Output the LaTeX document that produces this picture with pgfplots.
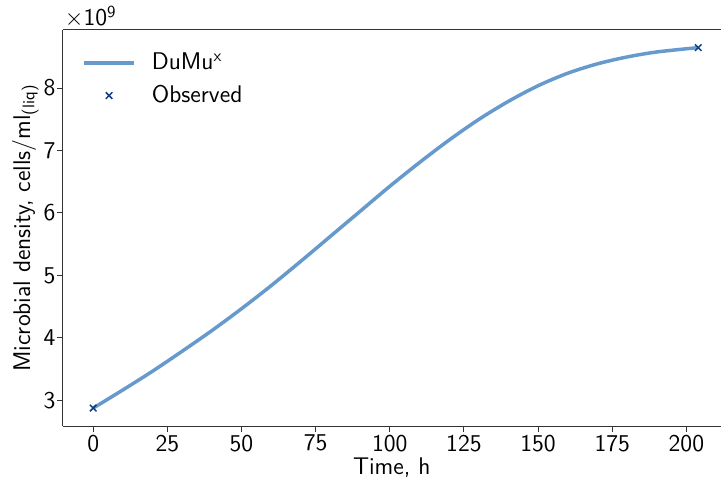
\documentclass[border=0pt]{standalone}
\usepackage{pgfplots}
\pgfplotsset{compat=1.18}
\renewcommand{\familydefault}{\sfdefault}
\definecolor{linec}{RGB}{102,153,204}
\definecolor{markc}{RGB}{12,62,130}
\newcommand{\fs}{\fontsize{14.5}{17}\selectfont}
\begin{document}
\begin{tikzpicture}
\begin{axis}[
  name=ax,
  scale only axis, width=395.4pt, height=238.2pt,
  xmin=-10.2, xmax=211.5, ymin=2.589, ymax=8.93,
  axis y line*=left,
  xtick pos=bottom,
  axis line style={line width=0.6pt, black!80},
  tick style={line width=0.6pt, black!80},
  tick align=outside, major tick length=3.5pt,
  xtick={0,25,...,200}, ytick={3,4,5,6,7,8},
  scaled y ticks=false,
  /pgf/number format/assume math mode=true,
  every tick label/.append style={font=\fs},
  yticklabel style={xshift=2.5pt},
  xticklabel style={yshift=1.8pt},
  xlabel={Time, h}, ylabel={Microbial density, cells/ml\textsubscript{(liq)}},
  label style={font=\fs},
  xlabel style={yshift=3.4pt}, ylabel style={inner ysep=7.2pt, yshift=-7.8pt},
  legend style={draw=none, fill=none, at={(0.0215,0.959)}, anchor=north west, font=\fs, row sep=4pt, column sep=7.7pt},
  legend cell align=left,
  legend image code/.code={\draw[mark repeat=2,mark phase=2,#1] plot coordinates {(0pt,0pt) (15pt,0pt) (30pt,0pt)};},
  clip=false,
]
\addplot[linec, line width=2.1pt, smooth] coordinates {
(0,2.877) (10,3.167) (20,3.467) (30,3.787) (40,4.117) (50,4.467) (60,4.837)
(70,5.227) (80,5.627) (90,6.027) (100,6.427) (110,6.807) (120,7.167) (130,7.497)
(140,7.787) (150,8.037) (160,8.237) (170,8.387) (180,8.497) (190,8.577) (204,8.647)
};
\addlegendentry{DuMu\textsuperscript{x}}
\addplot[only marks, mark=x, mark size=2.8pt, markc, line width=0.9pt] coordinates {
(0,2.877) (204,8.647)
};
\addlegendentry{Observed}
\node[anchor=south west, font=\fs, inner sep=1pt] at (rel axis cs:0,1) {$\times$10\textsuperscript{9}};
\end{axis}
\path ([yshift=18pt]ax.north west);
\end{tikzpicture}
\end{document}
